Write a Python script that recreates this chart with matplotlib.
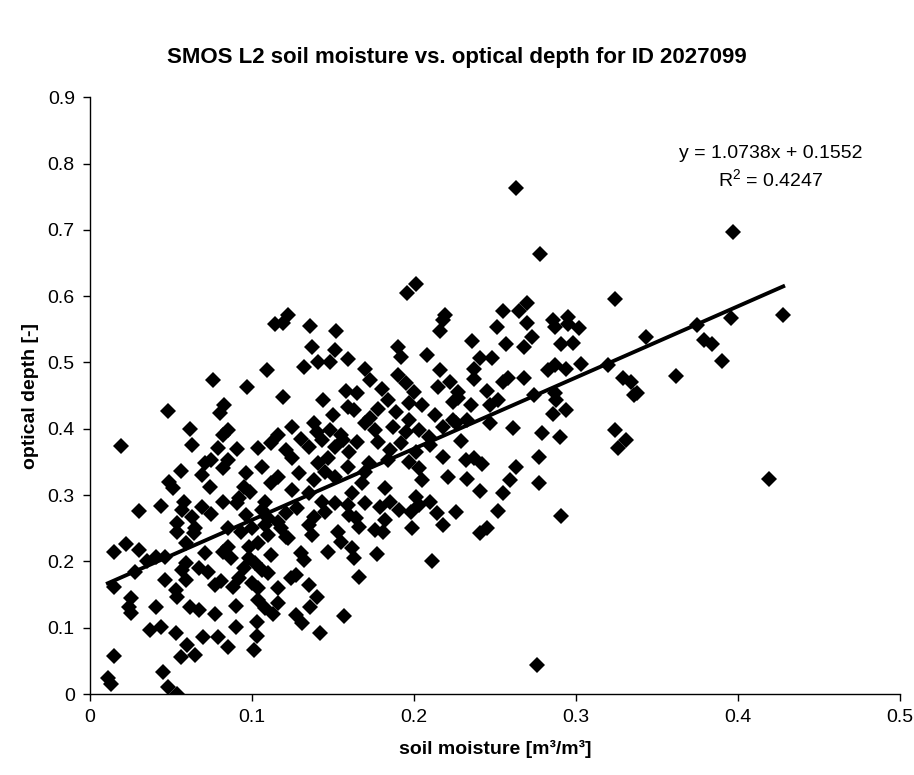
import numpy as np
import matplotlib
matplotlib.use("Agg")
import matplotlib.pyplot as plt
from matplotlib.ticker import MultipleLocator, FuncFormatter

# soil moisture [m3/m3] and optical depth [-]
soil_moisture = [
    0.196, 0.201, 0.122, 0.219, 0.263, 0.278, 0.324, 0.255, 0.265, 0.270,
    0.286, 0.295, 0.397, 0.428, 0.396,
    0.114, 0.109, 0.076, 0.097, 0.048, 0.083, 0.080, 0.062, 0.063, 0.019,
    0.085, 0.082, 0.079, 0.091, 0.104, 0.112, 0.085, 0.082, 0.071, 0.075,
    0.069, 0.056, 0.049, 0.051, 0.074, 0.096, 0.106, 0.095, 0.099, 0.112,
    0.092, 0.108, 0.058, 0.082,
    0.119, 0.136, 0.152, 0.216, 0.218, 0.137, 0.151, 0.132, 0.141, 0.148,
    0.159, 0.170, 0.173, 0.190, 0.192, 0.208, 0.190, 0.195, 0.216, 0.215,
    0.222, 0.119, 0.144, 0.158, 0.165, 0.184, 0.197, 0.205, 0.224, 0.150,
    0.159, 0.163, 0.173, 0.189, 0.213, 0.125, 0.138, 0.148, 0.155, 0.170,
    0.176, 0.187, 0.197, 0.203, 0.218, 0.116, 0.143, 0.156, 0.165, 0.178,
    0.192, 0.209, 0.224, 0.121, 0.135, 0.151, 0.185, 0.201, 0.218, 0.125,
    0.141, 0.147, 0.159, 0.172, 0.184, 0.197, 0.203, 0.221, 0.116, 0.129,
    0.138, 0.151, 0.168, 0.182, 0.205, 0.135, 0.125, 0.162, 0.201,
    0.145, 0.160, 0.130, 0.178, 0.195, 0.210, 0.170, 0.140, 0.180, 0.200,
    0.251, 0.270, 0.236, 0.257, 0.268, 0.273, 0.287, 0.295, 0.302, 0.291,
    0.298, 0.241, 0.248, 0.237, 0.237, 0.255, 0.258, 0.268, 0.283, 0.287,
    0.294, 0.303, 0.320, 0.329, 0.334, 0.336, 0.227, 0.227, 0.245, 0.252,
    0.247, 0.274, 0.287, 0.288, 0.294, 0.286, 0.235, 0.233, 0.247, 0.261,
    0.226, 0.229, 0.279, 0.290, 0.324, 0.331, 0.326, 0.232, 0.237, 0.242,
    0.263, 0.277, 0.233, 0.259, 0.277, 0.241, 0.255,
    0.343, 0.375, 0.379, 0.384, 0.390, 0.362, 0.338, 0.419,
    0.030, 0.044, 0.054, 0.054, 0.057, 0.063, 0.069, 0.075, 0.064, 0.091,
    0.096, 0.106, 0.110, 0.015, 0.022, 0.030, 0.041, 0.046, 0.028, 0.015,
    0.059, 0.059, 0.057, 0.067, 0.073, 0.059, 0.046, 0.053, 0.054, 0.025,
    0.024, 0.025, 0.041, 0.062, 0.067, 0.077, 0.077, 0.081, 0.088, 0.090,
    0.082, 0.085, 0.087, 0.071, 0.098, 0.104, 0.098, 0.102, 0.106, 0.110,
    0.100, 0.104, 0.104, 0.103, 0.103, 0.101, 0.090, 0.079, 0.085, 0.070,
    0.060, 0.056, 0.065, 0.037, 0.044, 0.053, 0.015, 0.045, 0.011,
    0.013, 0.048, 0.054, 0.035, 0.065, 0.085, 0.100, 0.110,
    0.093, 0.108, 0.112, 0.095, 0.092, 0.108, 0.113,
    0.166, 0.157, 0.142, 0.211, 0.177, 0.147, 0.162, 0.163, 0.130, 0.132,
    0.137, 0.122, 0.138, 0.153, 0.155, 0.164, 0.166, 0.176, 0.181, 0.182,
    0.199, 0.218, 0.214, 0.191, 0.198, 0.203, 0.179, 0.170, 0.151, 0.159,
    0.143, 0.124, 0.127, 0.135, 0.116, 0.140, 0.136, 0.116, 0.127, 0.131,
    0.121, 0.121, 0.116,
    0.128, 0.145, 0.185, 0.210, 0.118, 0.135, 0.160,
    0.226, 0.252, 0.241, 0.245, 0.291, 0.276,
]
optical_depth = [
    0.605, 0.618, 0.572, 0.572, 0.763, 0.664, 0.596, 0.578, 0.577, 0.590,
    0.564, 0.569, 0.697, 0.572, 0.567,
    0.558, 0.489, 0.474, 0.463, 0.427, 0.436, 0.424, 0.400, 0.376, 0.374,
    0.398, 0.390, 0.371, 0.370, 0.371, 0.379, 0.353, 0.341, 0.348, 0.353,
    0.330, 0.336, 0.320, 0.311, 0.312, 0.333, 0.342, 0.312, 0.305, 0.318,
    0.295, 0.290, 0.290, 0.290,
    0.560, 0.555, 0.547, 0.547, 0.564, 0.523, 0.519, 0.493, 0.501, 0.501,
    0.505, 0.490, 0.474, 0.523, 0.508, 0.511, 0.481, 0.469, 0.489, 0.463,
    0.470, 0.448, 0.443, 0.457, 0.454, 0.443, 0.439, 0.436, 0.440, 0.421,
    0.433, 0.428, 0.416, 0.425, 0.421, 0.403, 0.409, 0.398, 0.390, 0.409,
    0.398, 0.403, 0.414, 0.398, 0.403, 0.391, 0.383, 0.383, 0.380, 0.380,
    0.379, 0.388, 0.413, 0.368, 0.373, 0.373, 0.368, 0.365, 0.357, 0.356,
    0.348, 0.356, 0.342, 0.348, 0.353, 0.350, 0.341, 0.327, 0.327, 0.333,
    0.323, 0.327, 0.318, 0.311, 0.323, 0.303, 0.308, 0.303, 0.297,
    0.335, 0.365, 0.385, 0.430, 0.395, 0.375, 0.335, 0.395, 0.460, 0.455,
    0.553, 0.560, 0.532, 0.528, 0.524, 0.538, 0.554, 0.558, 0.552, 0.528,
    0.529, 0.507, 0.507, 0.490, 0.475, 0.470, 0.476, 0.476, 0.489, 0.496,
    0.490, 0.498, 0.496, 0.477, 0.471, 0.451, 0.455, 0.446, 0.457, 0.443,
    0.436, 0.451, 0.454, 0.443, 0.428, 0.422, 0.436, 0.413, 0.409, 0.401,
    0.409, 0.382, 0.394, 0.388, 0.398, 0.383, 0.371, 0.353, 0.356, 0.347,
    0.342, 0.357, 0.324, 0.323, 0.318, 0.306, 0.303,
    0.538, 0.556, 0.534, 0.528, 0.502, 0.480, 0.454, 0.324,
    0.276, 0.284, 0.258, 0.244, 0.278, 0.267, 0.282, 0.271, 0.243, 0.288,
    0.270, 0.278, 0.265, 0.214, 0.226, 0.217, 0.207, 0.207, 0.184, 0.161,
    0.228, 0.198, 0.187, 0.190, 0.184, 0.172, 0.172, 0.157, 0.146, 0.145,
    0.131, 0.122, 0.131, 0.131, 0.127, 0.120, 0.164, 0.170, 0.161, 0.133,
    0.214, 0.222, 0.205, 0.212, 0.222, 0.228, 0.205, 0.198, 0.187, 0.183,
    0.167, 0.160, 0.142, 0.109, 0.088, 0.066, 0.101, 0.086, 0.071, 0.086,
    0.074, 0.056, 0.059, 0.097, 0.101, 0.092, 0.057, 0.033, 0.024,
    0.015, 0.010, 0.000, 0.200, 0.250, 0.250, 0.250, 0.240,
    0.245, 0.255, 0.210, 0.190, 0.175, 0.130, 0.120,
    0.176, 0.118, 0.092, 0.200, 0.211, 0.214, 0.220, 0.205, 0.213, 0.202,
    0.240, 0.235, 0.267, 0.244, 0.229, 0.265, 0.252, 0.247, 0.244, 0.262,
    0.250, 0.255, 0.273, 0.278, 0.275, 0.285, 0.282, 0.288, 0.288, 0.285,
    0.290, 0.175, 0.180, 0.164, 0.160, 0.146, 0.131, 0.137, 0.119, 0.107,
    0.273, 0.237, 0.260,
    0.280, 0.275, 0.290, 0.290, 0.250, 0.255, 0.270,
    0.275, 0.276, 0.243, 0.250, 0.268, 0.044,
]

# linear trendline as given on the chart
slope = 1.0738
intercept = 0.1552
r_squared = 0.4247

plt.rcParams["font.family"] = ["Liberation Sans", "DejaVu Sans"]
plt.rcParams["mathtext.default"] = "regular"

fig = plt.figure(figsize=(9.14, 7.75), dpi=100)
ax = fig.add_axes([0.0985, 0.1045, 0.886, 0.770])

ax.plot(soil_moisture, optical_depth, linestyle="none", marker="D",
        markersize=8, markeredgewidth=0, color="black")

x_fit = np.array([min(soil_moisture), max(soil_moisture)])
ax.plot(x_fit, slope * x_fit + intercept, color="black", linewidth=2.8)

ax.text(0.42, 0.794,
        "y = {:.4f}x + {:.4f}\nR$^2$ = {:.4f}".format(slope, intercept, r_squared),
        ha="center", va="center", multialignment="center",
        fontsize=14, linespacing=1.4)

ax.set_xlim(0, 0.5)
ax.set_ylim(0, 0.9)
ax.xaxis.set_major_locator(MultipleLocator(0.1))
ax.yaxis.set_major_locator(MultipleLocator(0.1))
fmt = FuncFormatter(lambda v, p: "{:g}".format(round(v, 2)))
ax.xaxis.set_major_formatter(fmt)
ax.yaxis.set_major_formatter(fmt)
ax.tick_params(direction="out", length=5, width=1, labelsize=14, pad=6)

for side in ["top", "right"]:
    ax.spines[side].set_visible(False)
for side in ["left", "bottom"]:
    ax.spines[side].set_linewidth(1)

ax.set_xlabel("soil moisture [m³/m³]", fontsize=14, fontweight="bold", labelpad=10)
ax.set_ylabel("optical depth [-]", fontsize=14, fontweight="bold", labelpad=6)
fig.suptitle("SMOS L2 soil moisture vs. optical depth for ID 2027099",
             fontsize=16, fontweight="bold", y=0.94)

fig.savefig("out.png", dpi=100)
